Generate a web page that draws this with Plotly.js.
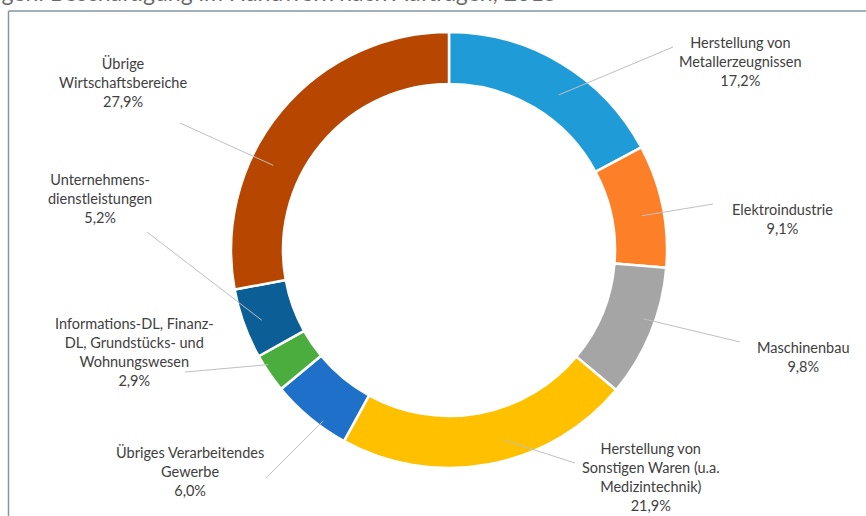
<!DOCTYPE html>
<html>
<head>
<meta charset="utf-8">
<script src="https://cdn.plot.ly/plotly-3.0.1.min.js"></script>
<style>html,body{margin:0;padding:0;background:#fff;}#chart{width:866px;height:516px;}</style>
</head>
<body>
<div id="chart"></div>
<script>
// ---- data ----
const categories = [
  "Herstellung von<br>Metallerzeugnissen",
  "Elektroindustrie",
  "Maschinenbau",
  "Herstellung von<br>Sonstigen Waren (u.a.<br>Medizintechnik)",
  "Übriges Verarbeitendes<br>Gewerbe",
  "Informations-DL, Finanz-<br>DL, Grundstücks- und<br>Wohnungswesen",
  "Unternehmens-<br>dienstleistungen",
  "Übrige<br>Wirtschaftsbereiche"
];
const shares = [17.2, 9.1, 9.8, 21.9, 6.0, 2.9, 5.2, 27.9];
const colors = ["#1f9cd8", "#fd7f28", "#a5a5a5", "#ffc000", "#1f70c9", "#4aad3d", "#0b5e96", "#b64600"];
const titleText = "igen: Beschäftigung im Handwerk nach Aufträgen, 2015";

// ---- layout positions (pixels) ----
const W = 866, H = 516;
const CX = 449, CY = 250, R_OUT = 218, R_IN = 166;
// label block centres
const labelPos = [[740, 62], [782, 219], [803, 357], [651, 477], [190, 471], [134, 352], [100, 198], [123, 83]];
// leader line tail (at label side)
const tailPos = [[673, 47], [713, 204], [740, 342], [575, 463], [266, 478], [185, 372], [147, 232], [180, 123]];
// where along the slice (fraction of its angle) and at which radius the leader ends
const headFrac = [0.57, 0.55, 0.42, 0.43, 0.35, 0.69, 0.46, 0.36];
const headRad = [190, 196, 206, 198, 212, 214, 200, 195];

const px = x => x / W;
const py = y => (H - y) / H;

const total = shares.reduce((a, b) => a + b, 0);
const annotations = [];
const shapes = [];
let cum = 0;
shares.forEach((v, i) => {
  const ang = 2 * Math.PI * (cum + headFrac[i] * v) / total;
  cum += v;
  const hx = CX + headRad[i] * Math.sin(ang);
  const hy = CY - headRad[i] * Math.cos(ang);
  shapes.push({type: "line", xref: "paper", yref: "paper",
    x0: px(tailPos[i][0]), y0: py(tailPos[i][1]), x1: px(hx), y1: py(hy),
    line: {color: "#bfbfbf", width: 1}});
  annotations.push({xref: "paper", yref: "paper", x: px(labelPos[i][0]), y: py(labelPos[i][1]),
    xanchor: "center", yanchor: "middle", showarrow: false, align: "center",
    text: categories[i] + "<br>" + v.toFixed(1).replace(".", ",") + "%",
    font: {family: "Lato, 'Open Sans', sans-serif", size: 14.5, color: "#404040"}});
});

// frame
shapes.push({type: "line", xref: "paper", yref: "paper", x0: px(8.5), y0: py(11), x1: 1, y1: py(11), line: {color: "#8696a0", width: 1.5}});
shapes.push({type: "line", xref: "paper", yref: "paper", x0: px(8.5), y0: py(11), x1: px(8.5), y1: 0, line: {color: "#8696a0", width: 1.5}});

// cut-off title
annotations.push({xref: "paper", yref: "paper", x: px(-6), y: py(-8), xanchor: "left", yanchor: "middle",
  showarrow: false, text: titleText, font: {family: "Lato, sans-serif", size: 23, color: "#6a6a6a"}});

const trace = {
  type: "pie",
  values: shares,
  labels: categories,
  sort: false,
  direction: "clockwise",
  rotation: 0,
  hole: R_IN / R_OUT,
  textinfo: "none",
  hoverinfo: "label+percent",
  marker: {colors: colors, line: {color: "#ffffff", width: 2.5}},
  domain: {x: [px(CX - R_OUT), px(CX + R_OUT)], y: [py(CY + R_OUT), py(CY - R_OUT)]},
  showlegend: false
};

const layout = {
  width: W, height: H,
  margin: {l: 0, r: 0, t: 0, b: 0},
  paper_bgcolor: "#ffffff",
  showlegend: false,
  annotations: annotations,
  shapes: shapes
};

Plotly.newPlot("chart", [trace], layout, {displayModeBar: false, staticPlot: true});
</script>
</body>
</html>
